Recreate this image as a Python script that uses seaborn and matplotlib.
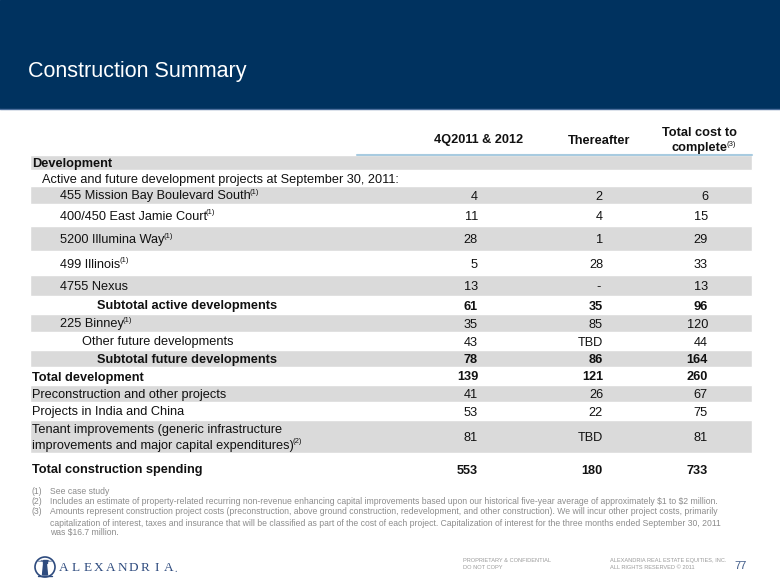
import matplotlib
matplotlib.use("Agg")
import matplotlib.pyplot as plt
import matplotlib.patches as mpatches
import seaborn as sns

# ---- table content ----
labels = [
    "Development",
    "Active and future development projects at September 30, 2011:",
    "455 Mission Bay Boulevard South",
    "400/450 East Jamie Court",
    "5200 Illumina Way",
    "499 Illinois",
    "4755 Nexus",
    "Subtotal active developments",
    "225 Binney",
    "Other future developments",
    "Subtotal future developments",
    "Total development",
    "Preconstruction and other projects",
    "Projects in India and China",
    "Tenant improvements (generic infrastructure\nimprovements and major capital expenditures)",
    "Total construction spending",
]
notes = [None, None, "(1)", "(1)", "(1)", "(1)", None, None, "(1)", None,
         None, None, None, None, "(2)", None]
q4_2011_2012 = [None, None, 4, 11, 28, 5, 13, 61, 35, 43, 78, 139, 41, 53, 81, 553]
thereafter = [None, None, 2, 4, 1, 28, "-", 35, 85, "TBD", 86, 121, 26, 22, "TBD", 180]
total_cost = [None, None, 6, 15, 29, 33, 13, 96, 120, 44, 164, 260, 67, 75, 81, 733]
col_headers = ["4Q2011 & 2012", "Thereafter", "Total cost to\ncomplete"]
col_notes = [None, None, "(3)"]

footnotes = [
    ("(1)", "See case study"),
    ("(2)", "Includes an estimate of property-related recurring non-revenue enhancing capital "
            "improvements based upon our historical five-year average of approximately $1 to $2 million."),
    ("(3)", "Amounts represent construction project costs (preconstruction, above ground construction, "
            "redevelopment, and other construction). We will incur other project costs, primarily"),
    ("", "capitalization of interest, taxes and insurance that will be classified as part of the cost "
         "of each project. Capitalization of interest for the three months ended September 30, 2011"),
    ("", "was $16.7 million."),
]

# ---- layout ----
row_edges = [155, 170, 186, 204, 226, 251, 275, 296, 314, 332, 350, 367, 385, 402, 420, 453, 485]
indent = [32, 42, 60, 60, 60, 60, 60, 97, 60, 82, 97, 32, 32, 32, 32, 32]
bold_rows = {0, 7, 10, 11, 15}
col_right = [478, 603, 708]
col_head_x = [479, 599, 700]

navy = "#00325F"
band = "#DADADA"
ink = "#111111"
fs = 9.2
half_cap = 4.5  # px from visual centre down to the baseline

sns.set_theme(style="white")
plt.rcParams["font.family"] = ["Liberation Sans", "DejaVu Sans"]

fig = plt.figure(figsize=(7.8, 5.85), dpi=100)
ax = fig.add_axes([0, 0, 1, 1])
ax.set_xlim(0, 780)
ax.set_ylim(585, 0)
ax.axis("off")
renderer = fig.canvas.get_renderer()


def add_sup(artist, y, s, size=5.5):
    bb = artist.get_window_extent(renderer)
    x1 = ax.transData.inverted().transform((bb.x1, bb.y1))[0]
    ax.text(x1 - 1.2, y - 2.5, s, fontsize=size, color=ink, ha="left", va="center")


def cell(x, y, s, ha="left", weight="normal"):
    return ax.text(x, y + half_cap, s, fontsize=fs, fontweight=weight, color=ink, ha=ha,
                   va="baseline")


# header band
ax.axhspan(0, 108, color=navy, zorder=0)
ax.axhline(108.5, color="#4D6F9C", lw=1)
ax.text(28, 72, "Construction Summary", color="white", fontsize=15.5, va="center", ha="left")

# column headers
for x, h, n in zip(col_head_x, col_headers, col_notes):
    lines = h.split("\n")
    ys = [139] if len(lines) == 1 else [131, 147]
    for ln, y in zip(lines, ys):
        t = cell(x, y, ln, ha="center", weight="bold")
    if n:
        add_sup(t, ys[-1], n)
ax.plot([357, 752], [155, 155], color="#A8CBE0", lw=1.5)

# rows
centers = [(a + b) / 2 for a, b in zip(row_edges[:-1], row_edges[1:])]
heights = [b - a for a, b in zip(row_edges[:-1], row_edges[1:])]
band_idx = [i for i in range(len(labels)) if i % 2 == 0]
ax.barh([centers[i] for i in band_idx], 722, height=[heights[i] for i in band_idx],
        left=30, color=band, zorder=0.5)

for i, lab in enumerate(labels):
    y = centers[i]
    w = "bold" if i in bold_rows else "normal"
    lines = lab.split("\n")
    offs = [0] if len(lines) == 1 else [-7.5, 7.5]
    for ln, o in zip(lines, offs):
        t = cell(indent[i], y + o, ln, weight=w)
    if notes[i]:
        add_sup(t, y + offs[-1], notes[i])
    for xr, col in zip(col_right, (q4_2011_2012, thereafter, total_cost)):
        v = col[i]
        if v is None:
            continue
        xx = xr - 2 if v == "-" else xr
        cell(xx, y, str(v), ha="right", weight=w)

# footnotes
fn_y = [491, 501, 512, 523, 533]
for (k, s), y in zip(footnotes, fn_y):
    if k:
        ax.text(32, y, k, fontsize=6.2, color="#8C8C8C", va="center", ha="left")
    ax.text(50, y, s, fontsize=6.2, color="#8C8C8C", va="center", ha="left", parse_math=False)

# footer
ax.text(463, 564, "PROPRIETARY & CONFIDENTIAL\nDO NOT COPY", fontsize=4.1, color="#9A9A9A",
        va="center", ha="left", linespacing=1.4)
ax.text(610, 564, "ALEXANDRIA REAL ESTATE EQUITIES, INC.\nALL RIGHTS RESERVED \u00a9 2011",
        fontsize=4.1, color="#9A9A9A", va="center", ha="left", linespacing=1.4)
ax.text(741, 566, "77", fontsize=8, color="#3E5A88", va="center", ha="center")

# logo
logo = "#2E4B7E"
ax.add_patch(mpatches.Ellipse((45, 567), 20, 20, fill=False, ec=logo, lw=1.2))
ax.add_patch(mpatches.Polygon([(42.5, 575), (47.5, 575), (46.3, 563), (43.7, 563)], color=logo))
ax.add_patch(mpatches.Rectangle((43.3, 560), 3.4, 3, color=logo))
for dx in (-7, -4, 4, 7):
    ax.plot([45, 45 + dx], [561.5, 559 + abs(dx) * 0.3], color=logo, lw=0.5)
ax.plot([38, 52], [575.5, 575.5], color=logo, lw=1)
for j, ch in enumerate("ALEXANDRIA"):
    ax.text(64 + j * 11.6, 568, ch, fontsize=9.5, color=logo, family="Liberation Serif",
            ha="center", va="center")
ax.text(64 + 9 * 11.6 + 6, 570, ".", fontsize=7, color=logo, family="Liberation Serif",
        ha="left", va="center")

fig.savefig("out.png", dpi=100)
